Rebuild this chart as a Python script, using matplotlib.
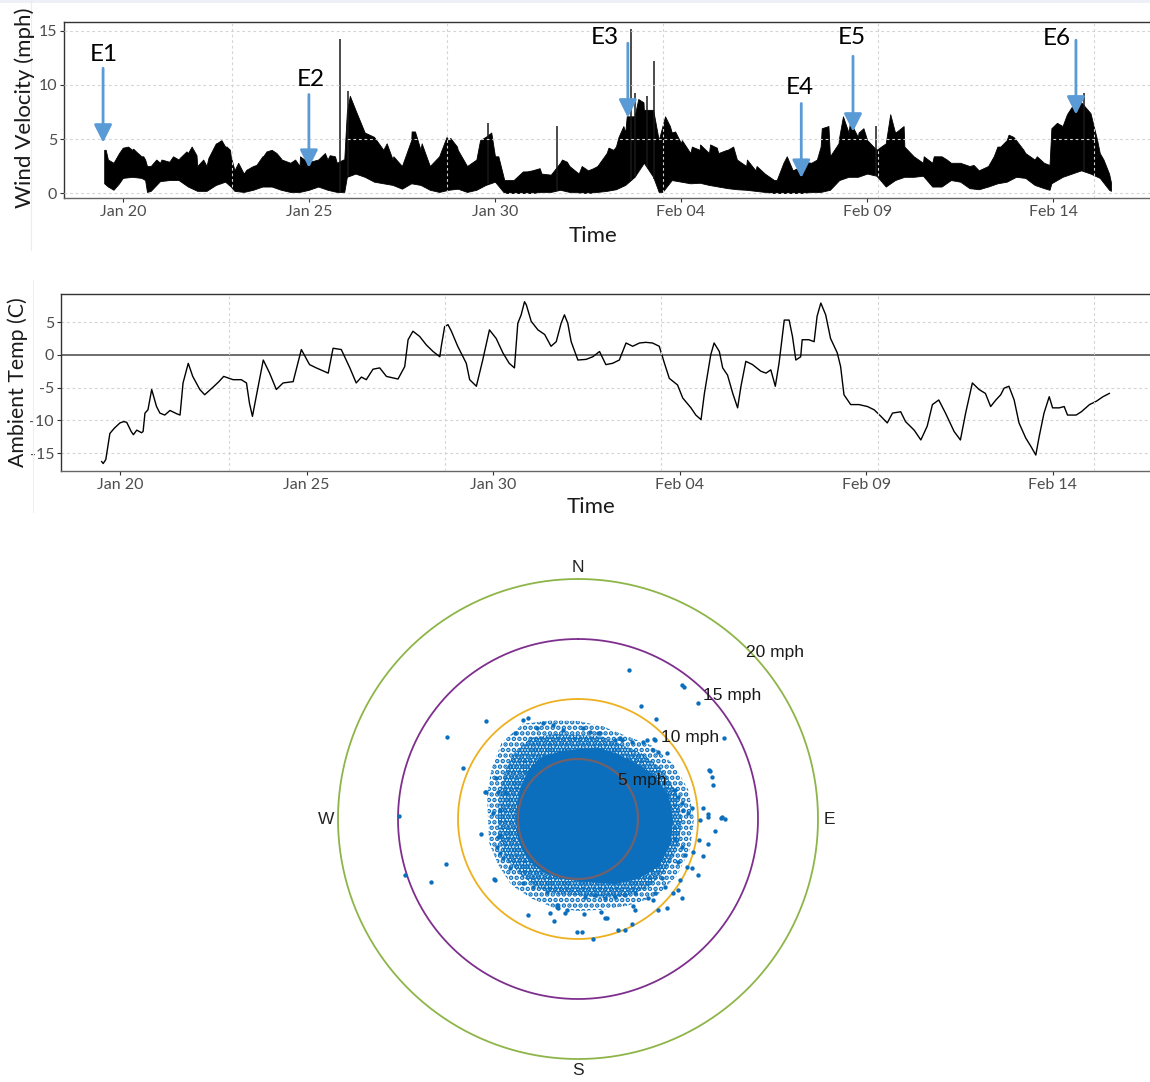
import numpy as np
import matplotlib
matplotlib.use("Agg")
import matplotlib.pyplot as plt
import matplotlib.dates as mdates
from matplotlib.patches import ArrowStyle, Rectangle
from matplotlib.lines import Line2D

plt.rcParams["axes.unicode_minus"] = False
plt.rcParams["hatch.linewidth"] = 2.3

START = np.datetime64("2019-01-20T00:00")

# ---------------- wind velocity record (days after Jan 20, mph) ----------------
wind_day = [-0.5, -0.4, -0.25, -0.1, 0.0, 0.25, 0.5, 0.6, 0.65, 0.75, 1.0, 1.25, 1.5, 1.75,
            2.0, 2.25, 2.5, 2.75, 2.9, 3.0, 3.25, 3.5, 3.75, 4.0, 4.25, 4.5, 4.75, 5.0,
            5.25, 5.5, 5.75, 5.95, 6.02, 6.1, 6.25, 6.5, 6.75, 7.0, 7.25, 7.5, 7.75, 8.0,
            8.25, 8.5, 8.75, 9.0, 9.25, 9.5, 9.75, 10.0, 10.25, 10.5, 10.75, 11.0, 11.25,
            11.5, 11.75, 12.0, 12.25, 12.5, 12.75, 13.0, 13.25, 13.5, 13.75, 14.0, 14.25,
            14.4, 14.5, 14.75, 15.0, 15.25, 15.5, 15.75, 16.0, 16.25, 16.5, 16.75, 17.0,
            17.25, 17.5, 17.75, 18.0, 18.25, 18.5, 18.75, 19.0, 19.25, 19.5, 19.75, 20.0,
            20.25, 20.5, 20.75, 21.0, 21.25, 21.5, 21.75, 22.0, 22.25, 22.5, 22.75, 23.0,
            23.25, 23.5, 23.75, 24.0, 24.25, 24.5, 24.75, 24.9, 24.95, 25.25, 25.5, 25.75,
            26.0, 26.25, 26.5, 26.55]
wind_high = [4.0, 3.1, 2.8, 3.7, 4.2, 4.0, 3.4, 3.1, 2.5, 2.5, 2.8, 2.9, 3.1, 3.7,
             2.5, 2.5, 4.6, 4.3, 3.4, 2.1, 1.8, 2.5, 3.4, 4.0, 3.2, 2.8, 2.5, 2.8,
             3.1, 3.1, 2.8, 3.1, 7.5, 9.0, 7.7, 5.6, 5.2, 4.0, 3.1, 2.5, 4.9, 4.0,
             2.5, 3.4, 4.9, 4.0, 2.5, 3.1, 5.2, 3.4, 1.2, 1.2, 2.0, 2.1, 1.8,
             1.7, 2.8, 2.5, 1.8, 2.1, 2.5, 3.7, 4.3, 5.6, 7.1, 7.7, 7.7,
             4.9, 6.2, 5.6, 4.6, 3.7, 4.0, 3.7, 3.7, 4.0, 3.1, 2.5, 2.1,
             1.8, 1.2, 2.8, 2.1, 2.5, 2.8, 4.3, 3.4, 5.2, 5.6, 5.2, 4.9,
             4.0, 4.6, 5.6, 4.3, 3.4, 2.8, 2.8, 3.4, 2.8, 2.8, 2.5, 2.1,
             2.5, 4.3, 4.9, 4.9, 3.7, 3.1, 2.8, 2.6, 6.0, 6.2, 8.0, 8.4,
             7.4, 3.7, 1.8, 1.0]
wind_low = [0.9, 0.6, 0.3, 0.9, 1.4, 1.5, 1.4, 1.2, 0.1, 0.2, 1.1, 1.2, 1.2, 0.6,
            0.2, 0.2, 0.75, 1.05, 0.6, 0.2, 0.1, 0.3, 0.6, 0.6, 0.3, 0.1, 0.1, 0.3,
            0.6, 0.3, 0.1, 0.1, 1.5, 1.6, 1.8, 1.5, 1.05, 0.9, 0.75, 0.4, 0.9, 0.75,
            0.3, 0.1, 0.3, 0.4, 0.1, 0.3, 0.75, 1.05, 0.0, 0.0, 0.0, 0.0, 0.1,
            0.1, 0.3, 0.1, 0.05, 0.0, 0.1, 0.2, 0.35, 0.75, 1.5, 2.8, 1.5,
            0.1, 0.1, 1.2, 1.05, 0.9, 0.95, 0.75, 0.6, 0.45, 0.35, 0.3, 0.2,
            0.1, 0.0, 0.0, 0.0, 0.0, 0.1, 0.1, 0.3, 1.2, 1.5, 1.5, 1.8,
            1.6, 0.6, 1.2, 1.5, 1.5, 1.6, 0.6, 0.6, 1.2, 1.05, 0.45, 0.35,
            0.6, 0.9, 1.05, 1.5, 1.4, 0.75, 0.45, 0.3, 0.9, 1.5, 1.8, 2.1,
            1.8, 1.4, 0.3, 0.2]
# short-lived maxima along the top of the band
peak_day = [-0.46, 0.01, 0.14, 0.28, 0.37, 0.55, 0.9, 1.04, 1.35, 1.53, 1.71, 1.85, 1.98,
            2.16, 2.3, 2.52, 2.65, 2.79, 2.88, 2.97, 3.1, 3.32, 3.59, 3.77, 3.86, 4.13,
            4.27, 4.63, 4.76, 5.03, 5.43, 5.56, 5.7, 5.92,
            7.09, 7.27, 7.76, 7.85, 8.03, 8.7, 8.8, 8.98, 9.6, 9.9, 10.09, 10.85, 11.2,
            11.8, 11.93, 12.33, 12.64, 13.05, 13.18, 13.32, 13.45, 13.54, 13.85, 13.99,
            14.17, 14.57, 14.7, 14.84, 15.02, 15.29, 15.51, 15.78, 15.96, 16.23, 16.4,
            16.77, 17.03, 17.57,
            17.84, 18.29, 18.65, 18.78, 18.96, 19.23, 19.35, 19.54, 19.77, 19.9, 20.62,
            20.8, 20.98, 21.52, 21.79, 22.14, 22.86, 23.4, 23.58, 23.8, 23.93, 24.2,
            24.56, 25.1, 25.37, 25.55, 25.68, 26.18, 26.35]
peak_val = [4.0, 4.2, 4.3, 4.1, 3.8, 3.4, 3.1, 3.1, 3.4, 3.25, 3.85, 4.3, 3.5,
            3.1, 3.25, 4.6, 4.9, 4.3, 4.0, 2.5, 2.8, 2.15, 2.6, 3.4, 3.85, 3.7,
            3.1, 3.1, 3.4, 2.9, 3.7, 3.5, 3.4, 3.1,
            4.6, 3.4, 5.7, 5.7, 4.6, 5.2, 5.1, 4.3, 4.9, 5.6, 3.4, 2.0, 2.3,
            3.1, 2.9, 2.5, 2.3, 4.2, 4.0, 5.2, 6.2, 7.1, 8.7, 8.4,
            7.7, 7.1, 6.2, 5.7, 4.9, 4.3, 4.5, 4.5, 4.2, 4.0, 4.3,
            3.1, 2.5, 1.2,
            3.4, 2.9, 3.1, 6.0, 6.2, 4.6, 7.1, 6.6, 5.6, 6.0, 7.3,
            5.7, 6.2, 3.4, 3.4, 3.1, 2.6, 3.4, 4.3, 5.4, 5.2, 4.0,
            3.4, 6.5, 7.3, 8.4, 8.7, 4.9, 3.1]
# brief gusts that stand out as thin lines
gust_day = [5.83, 6.06, 9.8, 11.66, 13.65, 13.76, 14.08, 14.27, 20.25, 25.82]
gust_peak = [14.3, 9.4, 6.5, 6.2, 15.2, 9.3, 9.0, 12.2, 6.2, 9.3]

# events marked on the wind record
event_name = ["E1", "E2", "E3", "E4", "E5", "E6"]
event_day = [-0.53, 5.0, 13.57, 18.23, 19.62, 25.61]
event_tip = [4.66, 2.33, 6.98, 1.40, 5.68, 7.26]
event_tail = [11.55, 9.12, 13.87, 8.29, 12.66, 14.15]
label_day = [-0.51, 5.05, 12.96, 18.2, 19.6, 25.1]
label_val = [12.85, 10.52, 14.43, 9.78, 14.43, 14.34]

# ---------------- ambient temperature (days after Jan 20, deg C) ----------------
temp_day = [-0.49, -0.45, -0.38, -0.27, -0.15, 0.0, 0.1, 0.18, 0.3, 0.36, 0.45, 0.58, 0.62,
            0.67, 0.75, 0.85, 0.98, 1.07, 1.2, 1.34, 1.52, 1.61, 1.69, 1.83, 1.95, 2.14,
            2.27, 2.54, 2.65, 2.78, 3.03, 3.25, 3.39, 3.47, 3.55, 3.65, 3.84, 4.01, 4.19,
            4.37, 4.64, 4.86, 5.08, 5.26, 5.58, 5.71, 5.93, 6.16, 6.33, 6.47, 6.6, 6.78,
            6.96, 7.14, 7.45, 7.63, 7.72, 7.85, 8.03, 8.21, 8.39, 8.57, 8.61, 8.70, 8.79,
            8.88, 9.05, 9.28, 9.37, 9.55, 9.72, 9.90, 10.08, 10.26, 10.43, 10.57, 10.66,
            10.75, 10.84, 10.89, 11.02, 11.20, 11.38, 11.55, 11.69, 11.82, 11.91, 12.0,
            12.09, 12.27, 12.49, 12.67, 12.85, 13.02, 13.20, 13.38, 13.56, 13.74, 13.92,
            14.09, 14.27, 14.45, 14.59, 14.72, 14.94, 15.08, 15.30, 15.43, 15.57, 15.66,
            15.83, 15.92, 16.06, 16.15, 16.28, 16.42, 16.55, 16.64, 16.77, 16.95, 17.17,
            17.31, 17.44, 17.56, 17.66, 17.80, 17.93, 18.02, 18.11, 18.24, 18.28, 18.46,
            18.60, 18.68, 18.78, 18.91, 19.04, 19.22, 19.31, 19.40, 19.58, 19.80, 20.03,
            20.21, 20.39, 20.56, 20.70, 20.92, 21.05, 21.28, 21.46, 21.63, 21.77, 21.94,
            22.12, 22.35, 22.52, 22.66, 22.84, 23.02, 23.19, 23.33, 23.47, 23.60, 23.69,
            23.82, 23.96, 24.09, 24.27, 24.41, 24.54, 24.63, 24.76, 24.90, 24.99, 25.17,
            25.30, 25.39, 25.62, 25.76, 25.98, 26.16, 26.34, 26.51]
temp_c = [-16.3, -16.6, -16.0, -12.0, -11.2, -10.4, -10.2, -10.3, -11.7, -12.2, -11.5, -11.9, -11.7,
          -8.9, -8.4, -5.3, -7.9, -8.9, -9.2, -8.5, -9.0, -9.2, -4.3, -1.3, -3.3, -5.3,
          -6.1, -4.7, -4.1, -3.3, -3.8, -3.8, -4.3, -7.4, -9.4, -6.4, -0.8, -2.8, -5.3,
          -4.3, -4.1, 0.8, -1.5, -2.0, -2.8, 1.0, 0.8, -2.0, -4.3, -3.4, -3.8, -2.2,
          -2.0, -3.3, -3.7, -1.8, 2.3, 3.6, 2.8, 1.5, 0.5, -0.3, 1.3, 4.3, 4.6,
          3.6, 1.3, -1.3, -3.8, -4.8, -0.8, 3.8, 2.5, 0.3, -1.3, -2.0, 4.8,
          6.1, 8.1, 7.6, 5.1, 3.8, 3.1, 1.3, 2.0, 4.8, 6.1, 4.8,
          2.0, -0.8, -0.7, -0.3, 0.5, -1.5, -1.3, -0.8, 1.8, 1.3, 1.8,
          1.9, 1.8, 1.3, -1.3, -3.6, -4.6, -6.6, -8.1, -9.2, -9.9, -5.9,
          0.0, 1.8, 0.5, -2.0, -3.1, -5.9, -8.1, -4.8, -1.0, -1.5, -2.5,
          -2.8, -2.3, -4.8, -1.3, 5.3, 5.3, 2.8, -0.8, -0.3, 2.3, 2.3,
          2.0, 5.9, 7.9, 6.1, 2.5, 0.3, -1.8, -6.1, -7.6, -7.6, -7.9,
          -8.4, -9.4, -10.4, -8.9, -8.7, -10.2, -11.5, -13.0, -10.9, -7.6, -6.9,
          -8.9, -11.7, -13.0, -8.9, -4.3, -5.3, -5.9, -7.9, -6.9, -6.1, -5.1,
          -4.8, -6.9, -10.4, -12.7, -14.0, -15.3, -12.5, -8.9, -6.4, -8.1, -8.1,
          -7.9, -9.2, -9.2, -8.7, -7.6, -7.1, -6.4, -5.9]

# shared time axis
date_ticks = ["2019-01-20", "2019-01-25", "2019-01-30", "2019-02-04", "2019-02-09", "2019-02-14"]
grid_day = [2.93, 8.72, 14.51, 20.30, 26.09]
day_range = [-1.58, 27.6]
wind_ticks = [0, 5, 10, 15]
temp_ticks = [5, 0, -5, -10, -15]

# ---------------- wind rose scatter (mph components: east, north) ----------------
ring_mph = [20, 15, 10, 5]
ring_color = ["#8db548", "#7e2f8e", "#edb120", "#d95319"]
core_dir = list(range(0, 360, 15))
core_mph = [5.83, 6.17, 6.33, 6.67, 7.33, 7.83, 7.92, 8.0, 7.83, 7.08, 6.25, 5.5,
            5.17, 5.17, 5.25, 5.33, 5.33, 5.25, 5.17, 5.25, 5.5, 5.83, 6.0, 5.83]
fringe_mph = [7.0, 7.17, 7.17, 7.67, 8.17, 8.5, 8.67, 8.67, 8.5, 8.17, 7.5, 6.83,
              6.33, 6.5, 6.67, 6.67, 6.83, 6.83, 6.67, 6.83, 7.17, 7.67, 7.83, 7.33]
halo_mph = [8.17, 8.0, 8.0, 8.67, 9.17, 9.5, 9.67, 9.67, 9.5, 9.17, 8.33, 7.83,
            7.67, 7.67, 7.67, 7.83, 7.67, 7.67, 7.5, 7.83, 8.33, 9.0, 9.17, 8.5]
obs_east = [-7.67, -10.94, -9.61, -7.69, -14.89, 4.28, 8.69, 8.86, 9.98, 5.23, 6.48, 12.17,
            11.0, 11.14, 11.28, 10.86, 11.98, 6.33, 7.39, -8.11, -11.0, -12.28, -14.42, -6.98,
            -4.14, -1.98, -2.33, -1.67, -0.06, 11.42, 10.81, 10.44, 10.08, 9.53, 9.98, 8.69,
            8.36, 7.39, 6.69, 4.75, 4.61, 2.39, 1.92, 0.53, 4.47, 3.92, 3.36, 1.28, 0.31,
            11.92, 12.25, 10.83,
            -4.56, -4.14, -5.25, -6.83, -6.64, -6.08, -7.06, -6.5, -3.44, -2.89, -2.06, -1.23,
            0.44, 1.83, 3.64, 5.44, 6.28, -7.75, -6.64, -6.5, -6.92, -1.78, -1.08, 2.25,
            6.28, 7.94, 8.5, 9.06, 9.61, 10.17, 10.44, 10.94,
            1.0, 1.69, 3.08, 3.5, 4.47, 5.72, 6.42, 6.69, 8.08, 8.36, 8.64, 8.77, 9.19, 9.47,
            7.53, 8.08, 8.64, 8.92, 8.36, 6.97, 7.25, 6.42, 5.86, 4.75, 3.92, 3.08, 2.25,
            1.42, 0.58,
            -6.5, -6.78, -6.22, -5.67, -4.56, -3.72, -2.61, -1.78, -0.94]
obs_north = [8.19, 6.81, 4.28, 2.23, 0.28, 12.42, 11.17, 10.98, 9.69, 9.44, 8.33, 6.78,
             4.0, 3.53, 2.83, 0.42, 0.19, 6.67, 5.47, -1.28, -3.78, -5.22, -4.67, -5.03,
             -8.0, -8.48, -7.83, -7.42, -9.44, -1.0, -2.11, -3.06, -1.75, -4.06, -4.67, -6.61,
             -5.92, -7.39, -7.58, -7.58, -7.22, -8.28, -7.72, -7.89, -8.78, -9.28, -9.28, -10.03, -9.39,
             0.08, 0.0, 0.19,
             8.25, 8.39, 7.14, 3.39, 2.28, 2.14, 0.47, 0.75, 7.56, 7.97, 7.83, 7.42,
             7.56, 7.14, 6.58, 6.44, 5.75, 2.28, -1.47, -2.86, -5.08, -7.31, -7.86, -8.28,
             -6.75, -6.19, -5.08, -3.97, -2.72, -0.08, 0.89, 4.08,
             7.28, 7.14, 6.58, 6.72, 6.44, 6.58, 6.58, 5.61, 2.42, 1.86, 1.31, 0.75, 0.47, 0.89,
             -1.33, -1.75, -2.31, -3.0, -3.56, -4.94, -5.64, -6.19, -6.61, -6.19, -6.33, -6.47, -6.61,
             -6.33, -6.47,
             -1.33, -2.31, -3.28, -4.11, -5.36, -5.64, -6.06, -7.17, -7.58]
cardinal = ["N", "E", "S", "W"]


def to_time(days):
    secs = np.round(np.asarray(days, dtype=float) * 86400).astype("int64")
    return START + secs.astype("timedelta64[s]")


W, H = 1150, 1082
fig = plt.figure(figsize=(W / 100, H / 100), dpi=100)
fig.patch.set_facecolor("white")

# faint page furniture
fig.add_artist(Rectangle((0, 1 - 3 / H), 1, 3 / H, transform=fig.transFigure,
                         color="#edf1f7", lw=0))
fig.add_artist(Line2D([31 / W, 31 / W], [1 - 250 / H, 1], transform=fig.transFigure,
                      color="#ececec", lw=0.8))
fig.add_artist(Line2D([33 / W, 33 / W], [1 - 512 / H, 1 - 280 / H], transform=fig.transFigure,
                      color="#f0f0f0", lw=0.8))

TXT = "Lato"
TICK_COLOR = "#4d4d4d"
GRID_KW = dict(color="#d4d4d4", lw=0.8, ls=(0, (2.5, 2.5)))


def style_time_axes(ax, yticks):
    ax.set_xlim(to_time(day_range[0]), to_time(day_range[1]))
    ax.set_xticks(np.array(date_ticks, dtype="datetime64[D]"))
    ax.xaxis.set_major_formatter(mdates.DateFormatter("%b %d"))
    ax.set_yticks(yticks)
    ax.tick_params(axis="both", length=3, width=0.8, color="#333333", labelsize=11.5,
                   labelcolor=TICK_COLOR, pad=2)
    for lbl in ax.get_xticklabels() + ax.get_yticklabels():
        lbl.set_fontfamily(TXT)
    for side in ("left", "top"):
        ax.spines[side].set_color("#333333")
        ax.spines[side].set_linewidth(1.0)
    ax.spines["bottom"].set_color("#666666")
    ax.spines["bottom"].set_linewidth(1.0)
    ax.spines["right"].set_visible(False)
    for gd in grid_day:
        ax.axvline(to_time(gd), zorder=4, **GRID_KW)


# ---------------- wind velocity panel ----------------
ax1 = fig.add_axes([64 / W, 1 - 198 / H, (W - 64) / W, 176 / H])
band_day = np.concatenate([wind_day, peak_day])
band_top = np.concatenate([wind_high, peak_val])
order = np.argsort(band_day, kind="stable")
band_day = band_day[order]
band_top = band_top[order]
band_bot = np.interp(band_day, wind_day, wind_low)
ax1.fill_between(to_time(band_day), band_bot, band_top, color="black", lw=0.6, zorder=2)
gust_base = np.interp(gust_day, wind_day, wind_low)
ax1.vlines(to_time(gust_day), gust_base, gust_peak, color="#1a1a1a", lw=1.1, zorder=2)
ax1.set_ylim(-0.46, 15.83)
style_time_axes(ax1, wind_ticks)
for yv in wind_ticks:
    ax1.axhline(yv, zorder=4, **GRID_KW)

arrow_style = ArrowStyle("-|>", head_length=0.6, head_width=0.3)
for name, d, tip, tail, ld, lv in zip(event_name, event_day, event_tip, event_tail,
                                      label_day, label_val):
    ax1.annotate("", xy=(to_time(d), tip), xytext=(to_time(d), tail),
                 arrowprops=dict(arrowstyle=arrow_style, color="#5b9bd5", lw=2.0,
                                 mutation_scale=18, shrinkA=0, shrinkB=0), zorder=6)
    ax1.text(to_time(ld), lv, name, ha="center", va="center", fontsize=17.5,
             family=TXT, color="black", zorder=6)

fig.text(25 / W, 1 - 108 / H, "Wind Velocity (mph)", rotation=90, ha="center",
         va="center", fontsize=16, family=TXT, color="#1a1a1a")
fig.text(593 / W, 1 - 236 / H, "Time", ha="center", va="center", fontsize=16,
         family=TXT, color="#1a1a1a")

# ---------------- temperature panel ----------------
ax2 = fig.add_axes([61 / W, 1 - 471 / H, (W - 61) / W, 177 / H])
ax2.axhline(0, color="#555555", lw=1.2, zorder=2)
ax2.plot(to_time(temp_day), temp_c, color="black", lw=1.0, zorder=3)
ax2.set_ylim(-17.74, 9.28)
style_time_axes(ax2, temp_ticks)
for yv in temp_ticks:
    if yv != 0:
        ax2.axhline(yv, zorder=1, **GRID_KW)

fig.text(18 / W, 1 - 382 / H, "Ambient Temp (C)", rotation=90, ha="center",
         va="center", fontsize=15.3, family=TXT, color="#1a1a1a")
fig.text(591 / W, 1 - 507 / H, "Time", ha="center", va="center", fontsize=16,
         family=TXT, color="#1a1a1a")

# ---------------- wind rose ----------------
R_PX = 252
cx, cy = 578, 819
ax3 = fig.add_axes([(cx - R_PX) / W, 1 - (cy + R_PX) / H, 2 * R_PX / W, 2 * R_PX / H],
                   projection="polar")
ax3.set_theta_zero_location("N")
ax3.set_theta_direction(-1)
ax3.set_ylim(0, 21)
ax3.axis("off")

circle_theta = np.linspace(0, 2 * np.pi, 721)
BLUE = "#0b6fbd"
for r, c in zip(ring_mph, ring_color):
    if r == 5:
        continue
    ax3.plot(circle_theta, np.full_like(circle_theta, r), color=c, lw=1.3, zorder=1,
             clip_on=False)

# speckled outer zone of the point cloud, denser toward the saturated core
dir_rad = np.deg2rad(core_dir + core_dir[:1])
ax3.fill(dir_rad, halo_mph + halo_mph[:1], facecolor="none", edgecolor=BLUE,
         hatch="...", lw=0, zorder=2)
ax3.fill(dir_rad, fringe_mph + fringe_mph[:1], facecolor="none", edgecolor=BLUE,
         hatch=".....", lw=0, zorder=2)
ax3.fill(dir_rad, core_mph + core_mph[:1], color=BLUE, lw=0, zorder=3)

east = np.array(obs_east)
north = np.array(obs_north)
ax3.scatter(np.arctan2(east, north), np.hypot(east, north), s=10, color=BLUE,
            lw=0, zorder=4)

ax3.plot(circle_theta, np.full_like(circle_theta, 5), color=ring_color[3], lw=1.6,
         alpha=0.5, zorder=5)

for r in ring_mph:
    ax3.annotate(f"{r} mph", xy=(np.deg2rad(45), r), xytext=(-1.5, -2.5),
                 textcoords="offset points", ha="left", va="center", fontsize=12.5,
                 family="Liberation Sans", color="#1a1a1a", zorder=6)

for lbl, ang in zip(cardinal, [0, 90, 180, 270]):
    ax3.text(np.deg2rad(ang), 20.95, lbl, ha="center", va="center", fontsize=12.5,
             family="Liberation Sans", color="#222222")

fig.savefig("out.png", dpi=100, facecolor="white")
